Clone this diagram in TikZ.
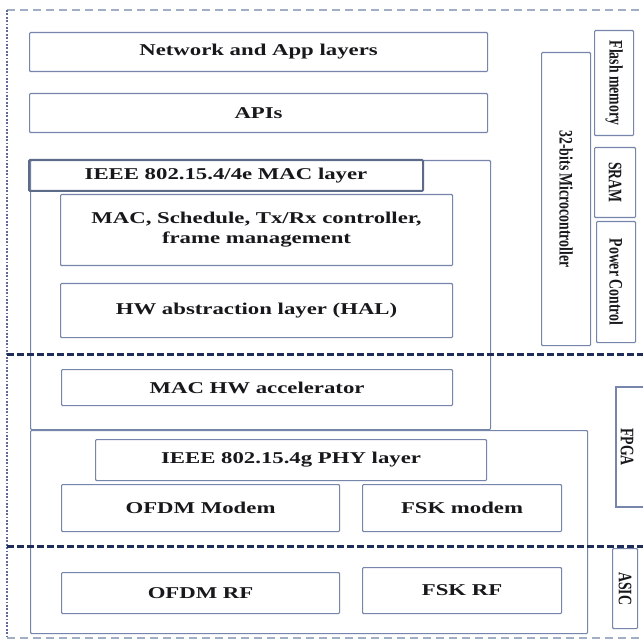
\documentclass[tikz,border=0pt]{standalone}
\usepackage{fontspec}
\usepackage{graphicx}
\setmainfont{Liberation Serif}[FakeStretch=1.38]
\newfontfamily\sidefont{Liberation Serif}

\definecolor{boxc}{RGB}{118,134,170}
\definecolor{sepc}{RGB}{30,44,88}
\definecolor{framec}{RGB}{160,174,198}
\definecolor{dotc}{RGB}{92,108,150}
\definecolor{txtc}{RGB}{24,24,28}

\newcommand\layerfont{\bfseries\fontsize{16.5}{20}\selectfont}
\newcommand\sidetxt[1]{\scalebox{1}[1.38]{\sidefont\bfseries\fontsize{13.8}{16}\selectfont #1}}

\tikzset{
  blk/.style={draw=boxc, line width=1.1pt, rounded corners=1pt, inner sep=0pt,
              anchor=north west, font=\layerfont, text=txtc, align=center},
  titleblk/.style={blk, draw=boxc!80!black, line width=2pt},
  sidetext/.style={rotate=-90, text=txtc, inner sep=0pt},
  sepline/.style={draw=sepc, line width=3pt, dash pattern=on 7pt off 3pt},
}

\begin{document}
\begin{tikzpicture}[x=1pt, y=-1pt]
\useasboundingbox (0,0) rectangle (643,639);
\fill[white] (0,0) rectangle (643,639);

% outer frame of the node
\draw[framec, line width=1.4pt, dash pattern=on 8pt off 5pt] (7,10) -- (643,10);
\draw[framec, line width=1.4pt, dash pattern=on 8pt off 5pt] (7,638) -- (643,638);
\draw[dotc, line width=1.8pt, dash pattern=on 1.8pt off 1.6pt] (7,10) -- (7,638);

% software stack
\node[blk, minimum width=458pt, minimum height=39pt] (net) at (29,32) {Network and App layers};
\node[blk, minimum width=458pt, minimum height=39pt] (api) at (29,93) {APIs};

% MAC layer
\node[blk, minimum width=460pt, minimum height=269pt] (maccont) at (30,160) {};
\node[titleblk, minimum width=394pt, minimum height=31pt] (mactitle) at (28,159) {IEEE 802.15.4/4e MAC layer};
\node[blk, minimum width=392pt, minimum height=71pt] (macsched) at (60,194)
  {MAC, Schedule, Tx/Rx controller,\\frame management};
\node[blk, minimum width=392pt, minimum height=54pt] (hal) at (60,283) {HW abstraction layer (HAL)};
\node[blk, minimum width=391pt, minimum height=36pt] (machw) at (61,369) {MAC HW accelerator};

% PHY layer
\node[blk, minimum width=557pt, minimum height=203pt] (phycont) at (30,430) {};
\node[blk, minimum width=391pt, minimum height=41pt] (phytitle) at (95,439) {IEEE 802.15.4g PHY layer};
\node[blk, minimum width=278pt, minimum height=47pt] (ofdmm) at (61,484) {OFDM Modem};
\node[blk, minimum width=199pt, minimum height=47pt] (fskm) at (362,484) {FSK modem};
\node[blk, minimum width=278pt, minimum height=41pt] (ofdmrf) at (61,572) {OFDM RF};
\node[blk, minimum width=199pt, minimum height=46pt] (fskrf) at (362,567) {FSK RF};

% hardware column
\node[blk, minimum width=49pt, minimum height=293pt] (micro) at (541,52) {};
\node[sidetext] at (micro.center) {\sidetxt{32-bits Microcontroller}};
\node[blk, minimum width=39pt, minimum height=105pt] (flash) at (594,30) {};
\node[sidetext] at (flash.center) {\sidetxt{Flash memory}};
\node[blk, minimum width=41pt, minimum height=70pt] (sram) at (594,147) {};
\node[sidetext] at (sram.center) {\sidetxt{SRAM}};
\node[blk, minimum width=39pt, minimum height=121pt] (power) at (596,221) {};
\node[sidetext] at (power.center) {\sidetxt{Power Control}};
\draw[boxc, line width=1.1pt] (650,387) -- (616,387) -- (616,507) -- (650,507);
\node[sidetext] (fpga) at (627,447) {\sidetxt{FPGA}};
\node[blk, minimum width=25pt, minimum height=80pt] (asic) at (612,548) {};
\node[sidetext] at (asic.center) {\sidetxt{ASIC}};

% software / hardware / RF boundaries
\draw[sepline] (7,354) -- (643,354);
\draw[sepline] (7,546) -- (643,546);
\end{tikzpicture}
\end{document}
